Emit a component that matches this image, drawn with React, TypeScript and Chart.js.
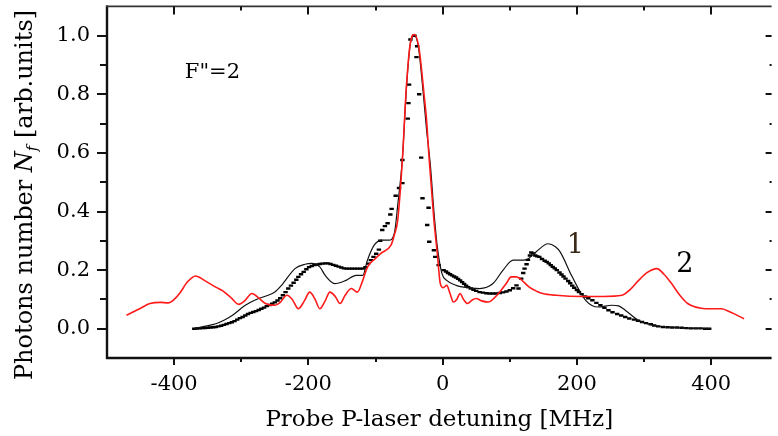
import { useEffect, useRef } from "react";
import { Chart, registerables } from "chart.js";

Chart.register(...registerables);

// Curve 2 (red, calculated)
const curve2Detuning = [-471, -450, -436, -420, -409, -400, -392, -380, -368, -355, -338, -328, -315, -304, -295, -284, -274, -264, -250, -242, -232, -224, -215, -206, -198, -190, -183, -175, -168, -160, -153, -145, -136, -127, -119, -112, -100, -92, -77, -72, -67, -60, -54, -48, -42, -35, -28, -24, -20, -13, -8, -3.5, 1, 6, 11, 16, 21, 26, 31, 37, 44, 50, 58, 68, 77, 85, 95, 102, 110, 115, 129, 140, 149, 169, 208, 240, 267, 280, 292, 305, 319, 330, 341, 353, 365, 385, 400, 415, 430, 449];
const curve2Photons = [0.046, 0.07, 0.086, 0.09, 0.088, 0.1, 0.12, 0.16, 0.18, 0.165, 0.142, 0.13, 0.105, 0.083, 0.095, 0.12, 0.105, 0.086, 0.08, 0.09, 0.114, 0.1, 0.068, 0.095, 0.125, 0.1, 0.068, 0.095, 0.125, 0.11, 0.086, 0.115, 0.137, 0.125, 0.165, 0.21, 0.24, 0.257, 0.285, 0.32, 0.37, 0.576, 0.827, 0.977, 1.004, 0.953, 0.806, 0.713, 0.576, 0.37, 0.257, 0.154, 0.14, 0.148, 0.12, 0.091, 0.1, 0.12, 0.1, 0.086, 0.098, 0.103, 0.095, 0.091, 0.105, 0.125, 0.155, 0.177, 0.177, 0.171, 0.142, 0.128, 0.12, 0.114, 0.11, 0.11, 0.114, 0.135, 0.165, 0.192, 0.205, 0.185, 0.154, 0.115, 0.086, 0.07, 0.068, 0.068, 0.055, 0.034];

// Curve 1 (black thin line, calculated)
const curve1Detuning = [-370, -355, -338, -325, -313, -294, -274, -259, -250, -240, -220, -205, -195, -183, -175, -161, -144, -129, -119, -112, -102, -90, -80, -72, -67, -60, -54, -48, -42, -36, -30, -24, -18, -13, -8, -1, 6, 20, 31, 55, 75, 90, 105, 115, 125, 139, 157, 168, 175, 193, 213, 232, 252, 262, 272, 292, 316, 356, 400];
const curve1Photons = [0, 0.008, 0.017, 0.03, 0.046, 0.08, 0.103, 0.115, 0.125, 0.148, 0.205, 0.22, 0.223, 0.211, 0.182, 0.154, 0.165, 0.182, 0.182, 0.234, 0.285, 0.302, 0.302, 0.325, 0.42, 0.58, 0.82, 0.975, 1.0, 0.96, 0.83, 0.68, 0.55, 0.4, 0.28, 0.188, 0.165, 0.148, 0.142, 0.137, 0.154, 0.2, 0.234, 0.234, 0.236, 0.262, 0.29, 0.28, 0.262, 0.177, 0.097, 0.074, 0.08, 0.078, 0.063, 0.028, 0.011, 0.003, 0];

// Experiment (black dots)
const expDetuning = [
  -370, -366, -362, -358, -354, -350, -346, -342, -338, -334, -330, -326, -322, -318, -314, -310, -306, -302, -298, -294, -290, -286, -282, -278, -274, -270, -266, -262, -258, -254, -250, -246, -242,
  -238, -234, -230, -226, -222, -218, -215, -211, -207, -203, -199,
  -195, -191, -187, -183, -179, -175, -171, -167, -163, -159, -155, -151, -147, -143, -139, -135, -131, -127, -123, -119, -115, -111, -107, -103, -99, -95,
  -93, -90, -86, -82, -78, -76, -70, -65, -60, -60, -52, -51, -50, -48, -42, -38, -39, -35, -32, -30, -21, -23, -20, -13, -11, -6,
  1.5, 5, 8, 11, 14, 17, 20, 23, 26, 29, 32, 35, 38, 42, 46, 50, 55, 60, 65, 70, 75, 80, 85, 90, 95, 100, 105, 110, 113, 117, 120, 122, 125, 127, 130, 132,
  135, 138, 141, 144, 148, 152, 155, 158, 161, 164, 167, 170, 174, 177, 180, 183, 187, 190, 193, 196, 200, 203, 207, 212, 217, 223, 229, 235, 241, 247, 253, 260, 266, 272, 278, 285, 291, 297, 303, 310, 315, 321, 328, 335, 342, 349, 356, 363, 370, 377, 384, 391, 397,
];
const expPhotons = [
  0, 0.0005, 0.001, 0.002, 0.002, 0.003, 0.004, 0.005, 0.006, 0.008, 0.01, 0.013, 0.016, 0.019, 0.022, 0.026, 0.031, 0.036, 0.04, 0.045, 0.05, 0.054, 0.057, 0.06, 0.064, 0.068, 0.072, 0.077, 0.081, 0.085, 0.09, 0.096, 0.104,
  0.114, 0.125, 0.137, 0.147, 0.157, 0.167, 0.177, 0.186, 0.194, 0.203, 0.21,
  0.214, 0.217, 0.219, 0.221, 0.222, 0.223, 0.223, 0.221, 0.218, 0.215, 0.212, 0.209, 0.206, 0.205, 0.205, 0.205, 0.205, 0.205, 0.205, 0.205, 0.21, 0.222, 0.234, 0.245, 0.256, 0.27,
  0.3, 0.337, 0.35, 0.36, 0.39, 0.409, 0.454, 0.48, 0.497, 0.576, 0.717, 0.77, 0.833, 0.987, 1.0, 0.964, 0.927, 0.8, 0.584, 0.445, 0.413, 0.354, 0.297, 0.268, 0.245, 0.217,
  0.2, 0.195, 0.19, 0.186, 0.182, 0.178, 0.175, 0.17, 0.165, 0.159, 0.153, 0.147, 0.142, 0.137, 0.133, 0.129, 0.125, 0.123, 0.121, 0.12, 0.12, 0.12, 0.122, 0.124, 0.127, 0.131, 0.138, 0.148, 0.137, 0.171, 0.19, 0.205, 0.22, 0.235, 0.25, 0.26,
  0.257, 0.25, 0.247, 0.245, 0.238, 0.232, 0.228, 0.223, 0.217, 0.211, 0.206, 0.2, 0.192, 0.185, 0.178, 0.171, 0.163, 0.155, 0.147, 0.14, 0.132, 0.125, 0.118, 0.11, 0.104, 0.097, 0.088, 0.08, 0.071, 0.063, 0.056, 0.05, 0.045, 0.04, 0.035, 0.031, 0.027, 0.023, 0.019, 0.015, 0.011, 0.008, 0.006, 0.005, 0.004, 0.004, 0.003, 0.002, 0.001, 0.001, 0.001, 0, 0,
];

const xMajorTicks = [-400, -200, 0, 200, 400];
const xMinorTicks = [-300, -100, 100, 300];
const yMajorTicks = [0, 0.2, 0.4, 0.6, 0.8, 1.0];
const yMinorTicks = [0.1, 0.3, 0.5, 0.7, 0.9];
const xLimits = [-500, 490];
const yLimits = [-0.1, 1.1];

const xTitle = "Probe P-laser detuning [MHz]";
const yTitleParts = ["Photons number ", "N", "f", " [arb.units]"];
const stateLabel = 'F"=2';
const curveLabels = ["1", "2"];
// annotation anchors in data units: [x, y]
const stateLabelAt = [-384, 0.855];
const curveLabelAt = [[185, 0.258], [348, 0.193]];

const FONT = '"DejaVu Serif", serif';

const toPoints = (xs: number[], ys: number[]) => xs.map((x, i) => ({ x, y: ys[i] }));

const framePlugin = {
  id: "frame",
  afterDraw(chart: any) {
    const { ctx, chartArea: a, scales } = chart;
    const xs = scales.x;
    const ys = scales.y;
    ctx.save();
    ctx.strokeStyle = "#111";
    ctx.lineCap = "butt";
    ctx.lineWidth = 2.4;
    ctx.beginPath();
    ctx.moveTo(a.left, a.top - 1);
    ctx.lineTo(a.left, a.bottom + 1);
    ctx.moveTo(a.left - 1, a.bottom);
    ctx.lineTo(a.right, a.bottom);
    ctx.stroke();
    ctx.lineWidth = 1.8;
    ctx.strokeStyle = "#333";
    ctx.beginPath();
    ctx.moveTo(a.left - 1, a.top);
    ctx.lineTo(a.right, a.top);
    ctx.stroke();
    ctx.strokeStyle = "#111";
    ctx.lineWidth = 2;
    ctx.beginPath();
    const tick = (x1: number, y1: number, x2: number, y2: number) => {
      ctx.moveTo(x1, y1);
      ctx.lineTo(x2, y2);
    };
    xMajorTicks.forEach((v) => {
      const p = Math.round(xs.getPixelForValue(v));
      tick(p, a.bottom, p, a.bottom + 7);
      tick(p, a.top, p, a.top + 8);
    });
    xMinorTicks.forEach((v) => {
      const p = Math.round(xs.getPixelForValue(v));
      tick(p, a.bottom, p, a.bottom + 4);
      tick(p, a.top, p, a.top + 4);
    });
    yMajorTicks.forEach((v) => {
      const p = Math.round(ys.getPixelForValue(v));
      tick(a.left - 10, p, a.left, p);
      tick(a.right - 6, p, a.right, p);
    });
    yMinorTicks.forEach((v) => {
      const p = Math.round(ys.getPixelForValue(v));
      tick(a.left - 7, p, a.left, p);
      tick(a.right - 2, p, a.right, p);
    });
    ctx.stroke();

    ctx.fillStyle = "#000";
    ctx.textAlign = "left";
    ctx.textBaseline = "alphabetic";
    ctx.font = `21px ${FONT}`;
    ctx.fillText(stateLabel, xs.getPixelForValue(stateLabelAt[0]), ys.getPixelForValue(stateLabelAt[1]));
    ctx.font = `27px ${FONT}`;
    ctx.fillStyle = "#3a2a1a";
    ctx.fillText(curveLabels[0], xs.getPixelForValue(curveLabelAt[0][0]), ys.getPixelForValue(curveLabelAt[0][1]));
    ctx.fillStyle = "#000";
    ctx.fillText(curveLabels[1], xs.getPixelForValue(curveLabelAt[1][0]), ys.getPixelForValue(curveLabelAt[1][1]));

    const fonts = [`24px ${FONT}`, `italic 24px ${FONT}`, `italic 15px ${FONT}`, `24px ${FONT}`];
    const offs = [0, 0, 5, 0];
    const widths = yTitleParts.map((t, i) => {
      ctx.font = fonts[i];
      return ctx.measureText(t).width;
    });
    const total = widths.reduce((s, w) => s + w, 0);
    ctx.translate(32, 195);
    ctx.rotate(-Math.PI / 2);
    let cx = -total / 2;
    yTitleParts.forEach((t, i) => {
      ctx.font = fonts[i];
      ctx.fillText(t, cx, offs[i]);
      cx += widths[i];
    });
    ctx.restore();
  },
};

export default function App() {
  const ref = useRef<HTMLCanvasElement | null>(null);
  useEffect(() => {
    if (!ref.current) return;
    const chart = new Chart(ref.current, {
      type: "line",
      data: {
        datasets: [
          {
            label: "2",
            data: toPoints(curve2Detuning, curve2Photons),
            borderColor: "#ff1a1a",
            borderWidth: 1.6,
            pointRadius: 0,
            cubicInterpolationMode: "monotone",
            fill: false,
          },
          {
            label: "1",
            data: toPoints(curve1Detuning, curve1Photons),
            borderColor: "#111",
            borderWidth: 1.2,
            pointRadius: 0,
            cubicInterpolationMode: "monotone",
            fill: false,
          },
          {
            label: "experiment",
            data: toPoints(expDetuning, expPhotons),
            showLine: false,
            pointStyle: "line",
            pointRadius: 2.2,
            borderWidth: 2.4,
            borderColor: "#000",
            backgroundColor: "#000",
          },
        ],
      },
      options: {
        responsive: false,
        animation: false,
        devicePixelRatio: 1,
        layout: { padding: { top: 6, right: 0, bottom: 0, left: 0 } },
        plugins: { legend: { display: false }, tooltip: { enabled: false } },
        scales: {
          x: {
            type: "linear",
            min: xLimits[0],
            max: xLimits[1],
            grid: { display: false, drawTicks: false },
            border: { display: false },
            afterBuildTicks: (s: any) => {
              s.ticks = xMajorTicks.map((v) => ({ value: v }));
            },
            afterFit: (s: any) => {
              s.height = 78;
              s.paddingLeft = 0;
              s.paddingRight = 0;
            },
            ticks: {
              color: "#000",
              font: { family: FONT, size: 21 },
              padding: 14,
              maxRotation: 0,
              callback: (v: any) => String(v),
            },
            title: {
              display: true,
              text: xTitle,
              color: "#000",
              font: { family: FONT, size: 23 },
              padding: { top: 0, bottom: 2 },
            },
          },
          y: {
            type: "linear",
            min: yLimits[0],
            max: yLimits[1],
            grid: { display: false, drawTicks: false },
            border: { display: false },
            afterBuildTicks: (s: any) => {
              s.ticks = yMajorTicks.map((v) => ({ value: v }));
            },
            afterFit: (s: any) => {
              s.width = 107;
              s.paddingTop = 0;
              s.paddingBottom = 0;
            },
            ticks: {
              color: "#000",
              font: { family: FONT, size: 21 },
              padding: 17,
              callback: (v: any) => Number(v).toFixed(1),
            },
          },
        },
      },
      plugins: [framePlugin],
    });
    return () => chart.destroy();
  }, []);
  return (
    <div style={{ position: "absolute", left: 0, top: 0, width: 778, height: 436, background: "#fff" }}>
      <canvas ref={ref} width={778} height={436} />
    </div>
  );
}
